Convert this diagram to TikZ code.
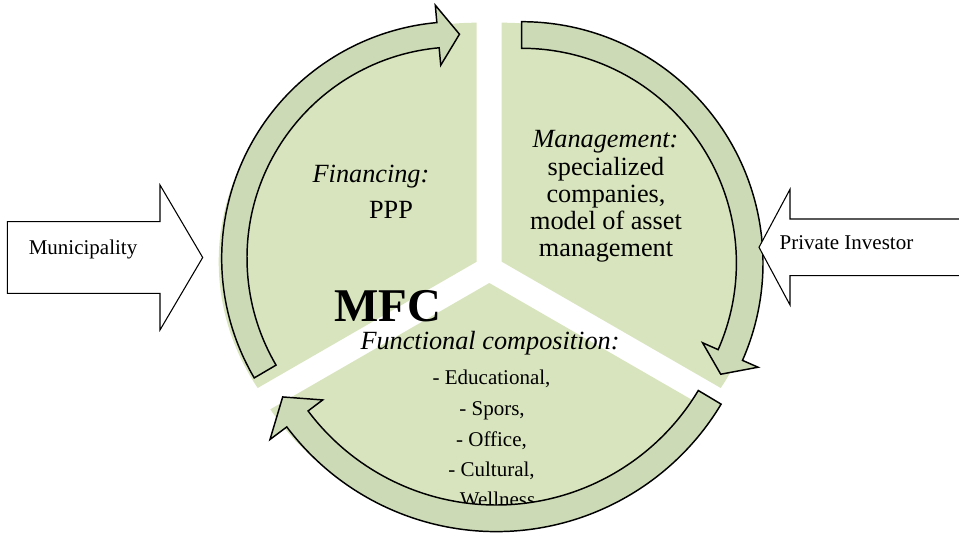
\documentclass[tikz,border=0pt]{standalone}
\usepackage{fontspec}
\setmainfont{Liberation Serif}
\usepackage{tikz}
\usetikzlibrary{calc}
\definecolor{sectgreen}{RGB}{216,228,189}
\definecolor{arrgreen}{RGB}{204,218,181}

\begin{document}
\begin{tikzpicture}[x=0.75pt, y=0.75pt,
    sect/.style={fill=sectgreen, draw=none},
    cyc/.style={fill=arrgreen, draw=black, line width=1.1pt},
    blockarr/.style={fill=white, draw=black, line width=0.8pt},
    small/.style={font=\fontsize{15.75}{18}\selectfont, inner sep=0pt, anchor=base},
    big/.style={font=\fontsize{19.7}{24}\selectfont, inner sep=0pt, anchor=base}]
  \useasboundingbox (0,0) rectangle (959,532);
  % corners of the three sectors
  \coordinate (L) at (476.7,270.3);
  \coordinate (R) at (501.7,270.3);
  \coordinate (B) at (489.3,249);
  \fill[sect] (L) -- ++(0,239) arc[start angle=90, end angle=211.9, x radius=258, y radius=239] -- cycle;
  \fill[sect] (R) -- ++(0,239) arc[start angle=90, end angle=-31.9, x radius=258, y radius=239] -- cycle;
  \fill[sect] (B) -- ++(-219,-126.3) arc[start angle=211.9, end angle=328.1, x radius=258, y radius=239] -- cycle;

  % texts in the sectors
  \node (fin) at (371,349) [big] {\textit{Financing:}};
  \node (ppp) at (391,313) [big] {PPP};
  \node (man1) at (605.5,384) [big] {\textit{Management:}};
  \node (man2) at (606,356.75) [big] {specialized};
  \node (man3) at (606,329.5) [big] {companies,};
  \node (man4) at (606,302.25) [big] {model of asset};
  \node (man5) at (606,275) [big] {management};
  \node (mfc) at (388,210.3) [anchor=base, inner sep=0pt, font=\fontsize{35.2}{40}\selectfont\bfseries] {MFC};
  \node (func) at (490,182) [big] {\textit{Functional composition:}};
  \node (edu) at (491.5,147) [small] {- Educational,};
  \node (spo) at (492,117) [small] {- Spors,};
  \node (off) at (491.5,86) [small] {- Office,};
  \node (cul) at (491.5,55.3) [small] {- Cultural,};
  \node (wel) at (491.5,26) [small] {- Wellness};

  % the three curved arrows
  \coordinate (c1) at (458.3,273.8);
  \coordinate (c2) at (521.7,269);
  \coordinate (c3) at (496.3,262.4);
  \draw[cyc] ($(c1)+(210.4:236.6)$) arc[start angle=210.4, end angle=95.2, radius=236.6]
    -- ($(c1)+(95.2:254.1)$) -- ($(c1)+(89.7:224)$) -- ($(c1)+(95.2:193.8)$)
    -- ($(c1)+(95.2:211.3)$) arc[start angle=95.2, end angle=210.4, radius=211.3] -- cycle;
  \draw[cyc] ($(c2)+(90:241.3)$) arc[start angle=90, end angle=-23.8, radius=241.3]
    -- ($(c2)+(-23.8:258.3)$) -- ($(c2)+(-29.2:228)$) -- ($(c2)+(-23.8:197.7)$)
    -- ($(c2)+(-23.8:214.7)$) arc[start angle=-23.8, end angle=90, radius=214.7] -- cycle;
  \draw[cyc] ($(c3)+(-30.9:262)$) arc[start angle=-30.9, end angle=-143.1, radius=262]
    -- ($(c3)+(-143.1:283)$) -- ($(c3)+(-149.2:248.7)$) -- ($(c3)+(-143.1:217.1)$)
    -- ($(c3)+(-143.1:235.4)$) arc[start angle=-143.1, end angle=-30.9, radius=235.4] -- cycle;

  % block arrows
  \draw[blockarr] (7.3,238.7) -- (160,238.7) -- (160,202) -- (202.7,274.5)
    -- (160,347) -- (160,310.3) -- (7.3,310.3) -- cycle;
  \draw[blockarr] (975,256.3) -- (790,256.3) -- (790,227) -- (759,284.7)
    -- (790,342.7) -- (790,313) -- (975,313) -- cycle;
  \node (muni) at (83,277) [small] {Municipality};
  \node (inv) at (846.5,282) [small] {Private Investor};
\end{tikzpicture}
\end{document}
